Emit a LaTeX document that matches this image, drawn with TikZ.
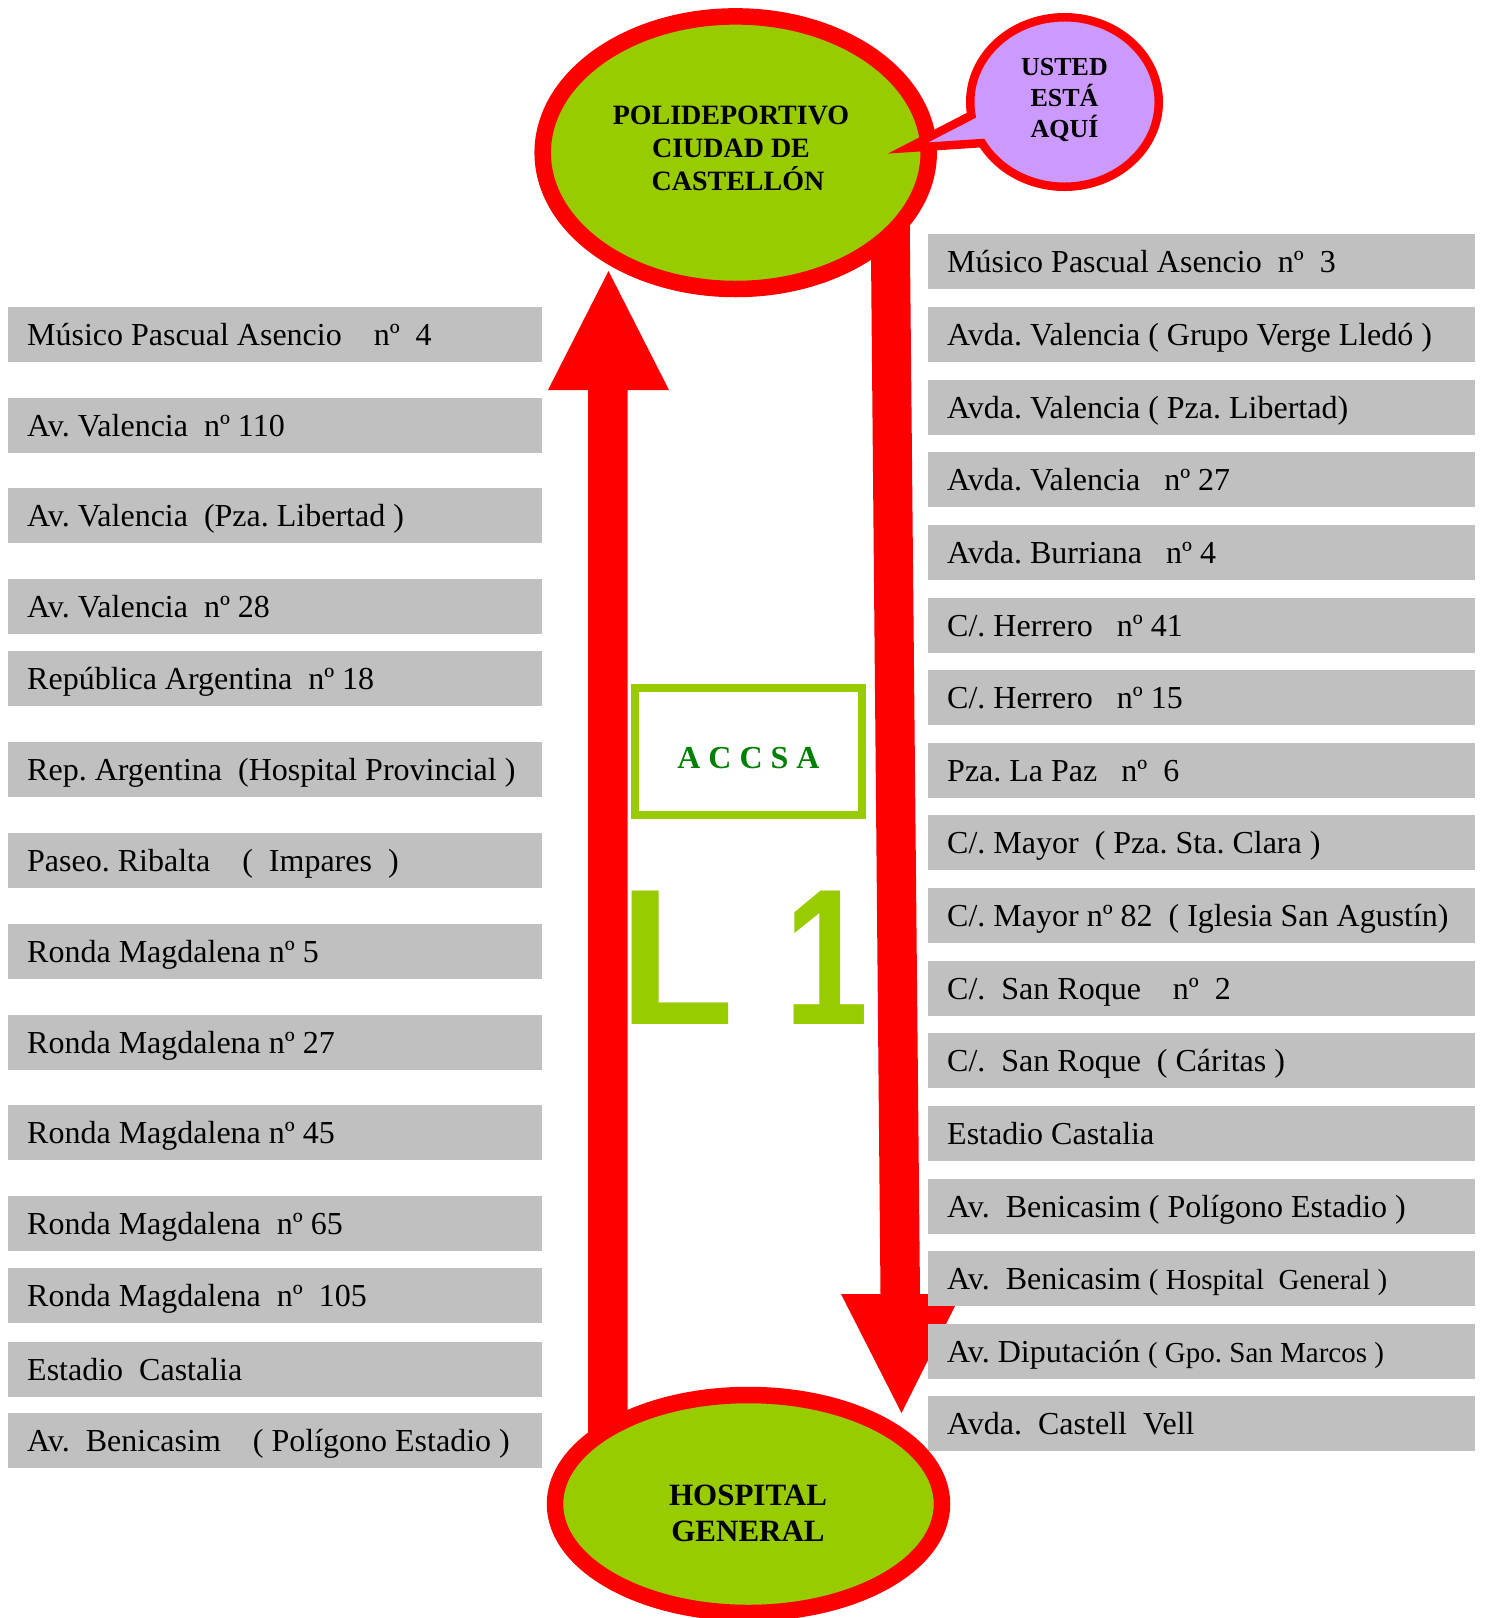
\documentclass[tikz,border=0pt]{standalone}
\usepackage{graphicx}
\usepackage{fontspec}
\setmainfont{Liberation Serif}
\newfontfamily\lsans{Liberation Sans}
\usetikzlibrary{shapes.geometric}
\definecolor{redline}{HTML}{FF0000}
\definecolor{limefill}{HTML}{99CC00}
\definecolor{lavfill}{HTML}{CC99FF}
\definecolor{boxgray}{HTML}{C0C0C0}
\definecolor{accsagreen}{HTML}{008000}
\frenchspacing
\newcommand{\tstrut}[1]{\rule{0pt}{#1}}
\newcommand{\bstrut}[1]{\rule[-#1]{0pt}{0pt}}
\begin{document}
\begin{tikzpicture}[x=1pt,y=-1pt,
  stopL/.style={fill=boxgray, anchor=north west, minimum width=534pt, minimum height=55pt,
    inner sep=0pt, text width=534pt, align=flush left, text height=25pt, text depth=3pt,
    font=\fontsize{32}{38}\selectfont, execute at begin node={\hspace*{19pt}}},
  stopR/.style={stopL, minimum width=547pt, text width=547pt},
  terminal/.style={ellipse, draw=redline, fill=limefill, line width=16.5pt, inner sep=0pt},
  termtext/.style n args={2}{align=flush center, inner sep=0pt, font=\bfseries\fontsize{#1}{#2}\selectfont},
  bigarrow/.style={fill=redline}
]
\useasboundingbox (0,0) rectangle (1489,1618);
\fill[white] (0,0) rectangle (1489,1618);

% block arrows
\fill[bigarrow] (588,1460) -- (588,390) -- (548,390) -- (608.5,271) -- (669,390) -- (627.5,390) -- (627.5,1460) -- cycle;
\fill[bigarrow] (870.5,200) -- (909.5,200) -- (920,1294) -- (961,1294) -- (901.5,1413) -- (841,1294) -- (880.5,1294) -- cycle;

% left stops
\node[stopL] (l1) at (8,306.5) {Músico Pascual Asencio~~~~nº~~4};
\node[stopL] (l2) at (8,397.3) {Av. Valencia~~nº 110};
\node[stopL] (l3) at (8,488.1) {Av. Valencia~~(Pza. Libertad )};
\node[stopL] (l4) at (8,578.9) {Av. Valencia~~nº 28};
\node[stopL] (l5) at (8,651.1) {República Argentina~~nº 18};
\node[stopL] (l6) at (8,741.9) {Rep. Argentina~~(Hospital Provincial )};
\node[stopL] (l7) at (8,832.7) {Paseo. Ribalta~~~~(~~Impares~~)};
\node[stopL] (l8) at (8,923.6) {Ronda Magdalena nº 5};
\node[stopL] (l9) at (8,1014.4) {Ronda Magdalena nº 27};
\node[stopL] (l10) at (8,1105.2) {Ronda Magdalena nº 45};
\node[stopL] (l11) at (8,1196.0) {Ronda Magdalena~~nº 65};
\node[stopL] (l12) at (8,1268.2) {Ronda Magdalena~~nº~~105};
\node[stopL] (l13) at (8,1341.5) {Estadio~~Castalia};
\node[stopL] (l14) at (8,1412.7) {Av.~~Benicasim~~~~( Polígono Estadio )};

% right stops
\node[stopR] (r1) at (928,234.2) {Músico Pascual Asencio~~nº~~3};
\node[stopR] (r2) at (928,306.8) {Avda. Valencia ( Grupo Verge Lledó )};
\node[stopR] (r3) at (928,379.4) {Avda. Valencia ( Pza. Libertad)};
\node[stopR] (r4) at (928,452.1) {Avda. Valencia~~~nº 27};
\node[stopR] (r5) at (928,524.7) {Avda. Burriana~~~nº 4};
\node[stopR] (r6) at (928,597.3) {C/. Herrero~~~nº 41};
\node[stopR] (r7) at (928,669.9) {C/. Herrero~~~nº 15};
\node[stopR] (r8) at (928,742.5) {Pza. La Paz~~~nº~~6};
\node[stopR] (r9) at (928,815.2) {C/. Mayor~~( Pza. Sta. Clara )};
\node[stopR] (r10) at (928,887.8) {C/. Mayor nº 82~~( Iglesia San Agustín)};
\node[stopR] (r11) at (928,960.4) {C/.~~San Roque~~~~nº~~2};
\node[stopR] (r12) at (928,1033.0) {C/.~~San Roque~~( Cáritas )};
\node[stopR] (r13) at (928,1105.6) {Estadio Castalia};
\node[stopR] (r14) at (928,1178.3) {Av.~~Benicasim ( Polígono Estadio )};
\node[stopR] (r15) at (928,1250.9) {Av.~~Benicasim {\fontsize{29}{34}\selectfont( Hospital~~General )}};
\node[stopR] (r16) at (928,1323.5) {Av. Diputación {\fontsize{29}{34}\selectfont( Gpo. San Marcos )}};
\node[stopR] (r17) at (928,1396.1) {Avda.~~Castell~~Vell};

% terminals
\node[terminal, minimum width=386pt, minimum height=272.6pt] (poli) at (735.7,152.7) {};
\node[terminal, minimum width=387pt, minimum height=218pt] (hosp) at (748.5,1504) {};
\node[termtext={28}{33}] (politext) at (731,148.6) {\tstrut{28.5pt}POLIDEPORTIVO\\CIUDAD DE\\\hspace*{14pt}CASTELLÓN\bstrut{10pt}};
\node[termtext={31}{36}] (hosptext) at (748,1513) {\tstrut{30.5pt}HOSPITAL\\GENERAL\bstrut{10pt}};

% speech bubble
\draw[draw=redline, fill=lavfill, line width=8.5pt] (1064.5,102) ++(171:94.25 and 84.75)
  arc[start angle=171, end angle=511, x radius=94.25, y radius=84.75] -- (908,148) -- cycle;
\node[termtext={26}{31}] (usted) at (1064.5,98) {\tstrut{27.2pt}USTED\\ESTÁ\\AQUÍ\bstrut{10pt}};

% company box and line label
\node[draw=limefill, line width=8pt, minimum width=227pt, minimum height=127pt, inner sep=0pt,
  text height=34.2pt, text depth=0pt, text=accsagreen, font=\bfseries\fontsize{32}{38}\selectfont]
  (accsa) at (748.5,751.5) {A C C S A};
\node[anchor=base west, inner sep=0pt, text=limefill, font=\lsans\bfseries\fontsize{194}{194}\selectfont]
  (line) at (619,1024) {\scalebox{0.97}[1]{L} \kern-4pt\scalebox{0.78}[1]{1}};
\end{tikzpicture}
\end{document}
